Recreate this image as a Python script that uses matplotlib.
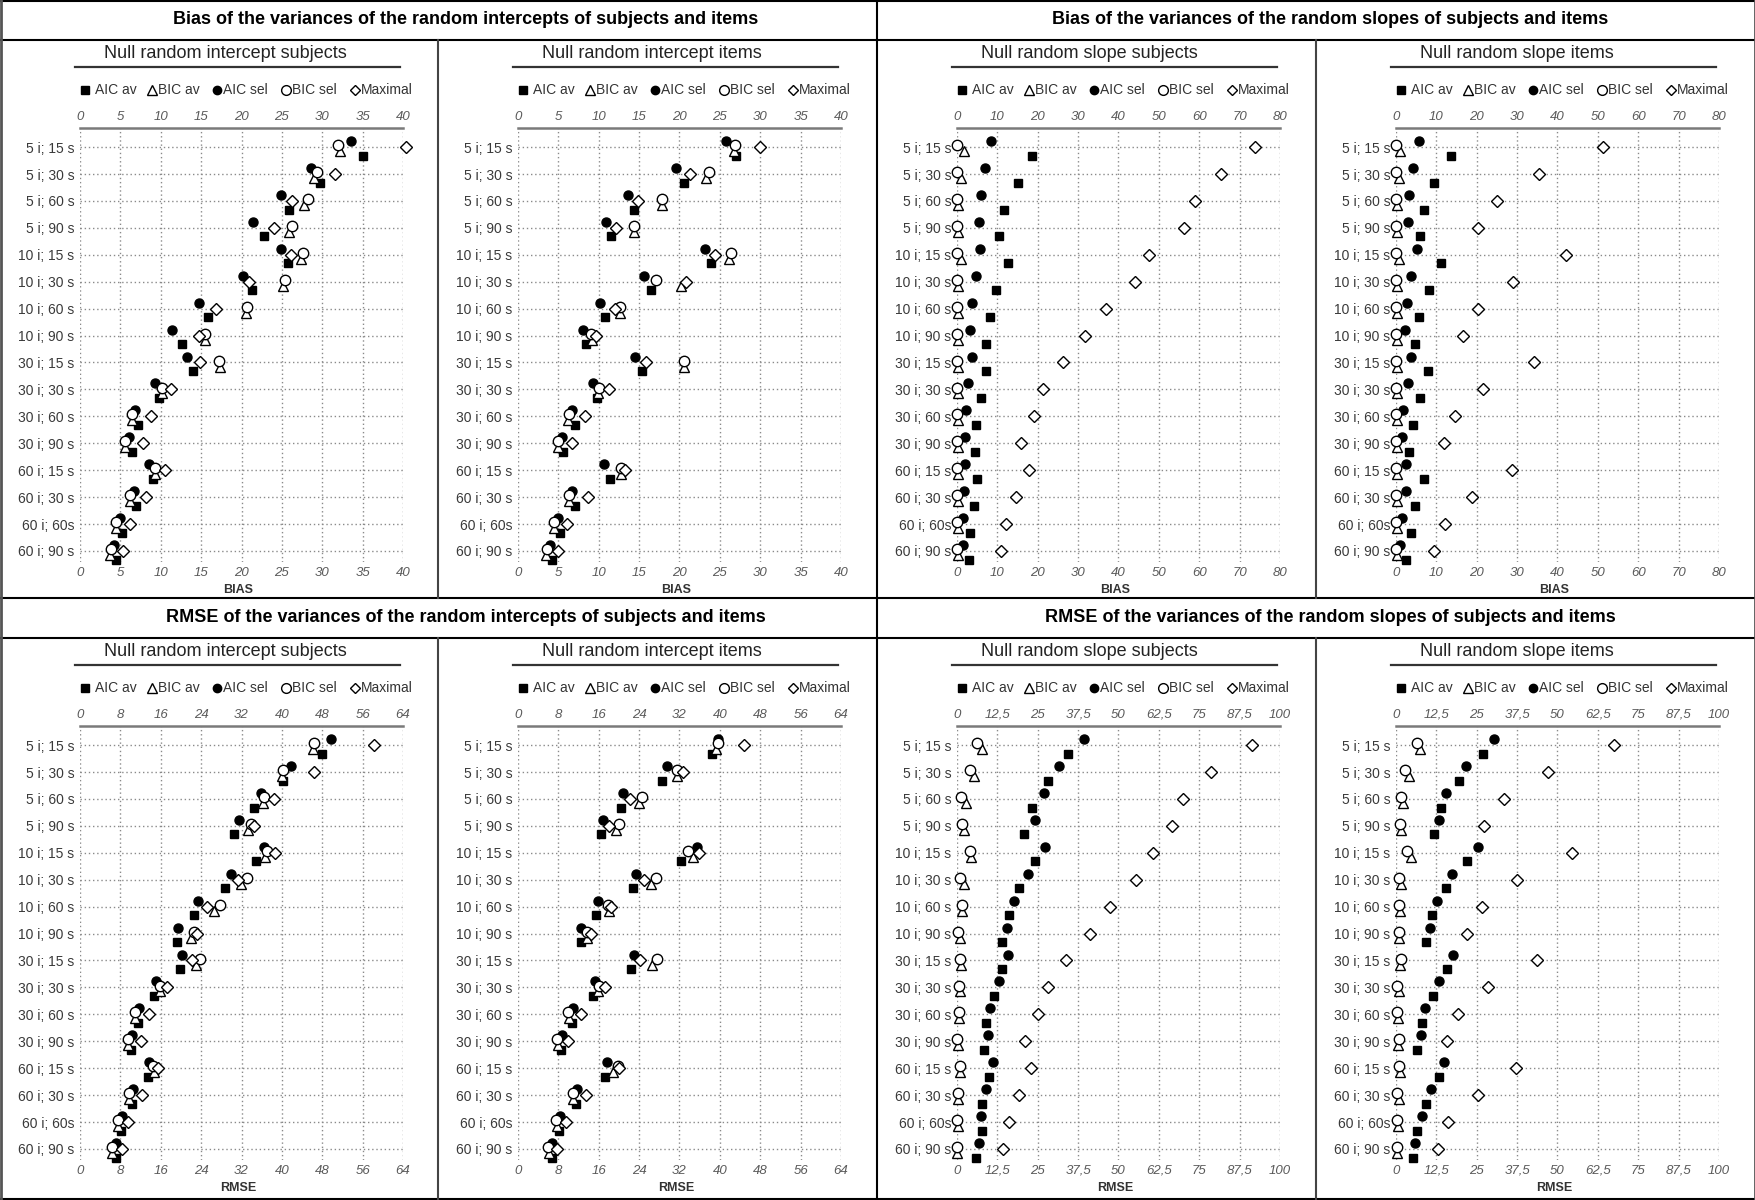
import matplotlib
matplotlib.use("Agg")
import matplotlib.pyplot as plt
from matplotlib.lines import Line2D

plt.rcParams['font.family'] = ['Liberation Sans', 'DejaVu Sans']

W, H = 1756, 1200

rows = ['5 i; 15 s', '5 i; 30 s', '5 i; 60 s', '5 i; 90 s',
        '10 i; 15 s', '10 i; 30 s', '10 i; 60 s', '10 i; 90 s',
        '30 i; 15 s', '30 i; 30 s', '30 i; 60 s', '30 i; 90 s',
        '60 i; 15 s', '60 i; 30 s', '60 i; 60s', '60 i; 90 s']

series_names = ['AIC av', 'BIC av', 'AIC sel', 'BIC sel', 'Maximal']

# ---- BIAS, null random intercept subjects
bis_aic_av = [35.1, 29.7, 25.9, 22.8, 25.7, 21.3, 15.8, 12.6, 14.0, 9.8, 7.2, 6.4, 9.1, 6.9, 5.2, 4.4]
bis_bic_av = [32.2, 29.0, 27.8, 25.9, 27.4, 25.1, 20.6, 15.5, 17.3, 10.2, 6.4, 5.6, 9.3, 6.2, 4.5, 3.7]
bis_aic_sel = [33.6, 28.6, 24.9, 21.4, 24.9, 20.2, 14.7, 11.4, 13.2, 9.3, 6.8, 6.1, 8.6, 6.7, 5.0, 4.2]
bis_bic_sel = [32.0, 29.3, 28.2, 26.3, 27.6, 25.4, 20.7, 15.5, 17.2, 10.1, 6.4, 5.6, 9.3, 6.2, 4.5, 3.8]
bis_max = [40.4, 31.6, 26.3, 24.0, 26.1, 20.9, 16.8, 14.7, 14.9, 11.3, 8.8, 7.8, 10.5, 8.2, 6.2, 5.3]

# ---- BIAS, null random intercept items
bii_aic_av = [27.0, 20.6, 14.4, 11.5, 23.9, 16.5, 10.8, 8.4, 15.4, 9.8, 7.0, 5.6, 11.4, 7.0, 5.2, 4.2]
bii_bic_av = [26.7, 23.3, 17.8, 14.4, 26.1, 20.2, 12.6, 9.2, 20.5, 9.9, 6.2, 4.9, 12.7, 6.3, 4.5, 3.5]
bii_aic_sel = [25.7, 19.6, 13.6, 10.9, 23.1, 15.6, 10.2, 8.1, 14.5, 9.3, 6.7, 5.4, 10.6, 6.7, 4.9, 4.0]
bii_bic_sel = [26.9, 23.6, 17.8, 14.4, 26.4, 17.1, 12.6, 9.0, 20.6, 10.0, 6.3, 4.9, 12.7, 6.3, 4.5, 3.6]
bii_max = [30.0, 21.3, 14.9, 12.1, 24.4, 20.8, 12.0, 9.6, 15.9, 11.3, 8.3, 6.7, 13.2, 8.7, 6.1, 5.0]

# ---- BIAS, null random slope subjects
bss_aic_av = [18.6, 15.1, 11.7, 10.3, 12.6, 9.6, 8.1, 7.1, 7.1, 5.9, 4.6, 4.4, 5.0, 4.1, 3.3, 3.0]
bss_bic_av = [1.7, 0.9, 0.3, 0.3, 0.9, 0.3, 0.3, 0.3, 0.3, 0.3, 0.3, 0.3, 0.3, 0.3, 0.3, 0.3]
bss_aic_sel = [8.5, 7.0, 6.0, 5.5, 5.8, 4.8, 3.8, 3.3, 3.6, 2.7, 2.3, 2.1, 2.1, 1.7, 1.5, 1.5]
bss_bic_sel = [0.0, 0.0, 0.0, 0.0, 0.0, 0.0, 0.0, 0.0, 0.0, 0.0, 0.0, 0.0, 0.0, 0.0, 0.0, 0.0]
bss_max = [73.8, 65.4, 58.9, 56.2, 47.6, 44.2, 37.0, 31.8, 26.3, 21.3, 19.0, 15.9, 17.8, 14.5, 12.2, 11.0]

# ---- BIAS, null random slope items
bsi_aic_av = [13.5, 9.5, 6.9, 5.9, 11.2, 8.1, 5.8, 4.6, 7.9, 5.9, 4.1, 3.3, 6.9, 4.8, 3.6, 2.5]
bsi_bic_av = [1.0, 0.7, 0.2, 0.2, 0.7, 0.2, 0.2, 0.2, 0.2, 0.2, 0.2, 0.2, 0.2, 0.2, 0.2, 0.2]
bsi_aic_sel = [5.6, 4.1, 3.1, 2.9, 5.2, 3.6, 2.7, 2.3, 3.8, 2.9, 1.7, 1.5, 2.6, 2.5, 1.6, 1.1]
bsi_bic_sel = [0.0, 0.0, 0.0, 0.0, 0.0, 0.0, 0.0, 0.0, 0.0, 0.0, 0.0, 0.0, 0.0, 0.0, 0.0, 0.0]
bsi_max = [51.3, 35.5, 25.0, 20.3, 42.1, 29.0, 20.2, 16.6, 34.1, 21.5, 14.5, 11.8, 28.8, 18.8, 12.1, 9.5]

# ---- RMSE, null random intercept subjects
ris_aic_av = [48.0, 40.2, 34.5, 30.6, 34.9, 28.8, 22.6, 19.2, 19.8, 14.7, 11.4, 10.1, 13.4, 10.4, 8.1, 7.1]
ris_bic_av = [46.2, 40.0, 36.2, 33.2, 36.7, 31.9, 26.6, 22.0, 23.0, 15.9, 10.9, 9.5, 14.6, 9.8, 7.5, 6.4]
ris_aic_sel = [49.8, 41.8, 35.8, 31.5, 36.4, 29.9, 23.3, 19.4, 20.2, 15.0, 11.6, 10.3, 13.6, 10.6, 8.3, 7.1]
ris_bic_sel = [46.4, 40.3, 36.5, 33.9, 37.0, 33.1, 27.8, 22.5, 23.8, 15.9, 10.8, 9.5, 14.4, 9.8, 7.5, 6.4]
ris_max = [58.2, 46.3, 38.5, 34.4, 38.7, 31.4, 25.1, 23.1, 22.2, 17.2, 13.6, 12.1, 15.5, 12.2, 9.5, 8.3]

# ---- RMSE, null random intercept items
rii_aic_av = [38.4, 28.5, 20.4, 16.5, 32.3, 22.7, 15.5, 12.5, 22.4, 14.8, 10.7, 8.6, 17.3, 11.5, 8.2, 6.7]
rii_bic_av = [39.2, 31.6, 23.9, 19.5, 34.6, 26.4, 18.0, 13.7, 26.5, 15.8, 10.2, 7.9, 18.9, 10.8, 7.7, 6.1]
rii_aic_sel = [39.7, 29.5, 20.8, 16.8, 35.4, 23.4, 15.8, 12.5, 22.9, 15.2, 10.8, 8.7, 17.6, 11.7, 8.4, 6.7]
rii_bic_sel = [39.6, 31.5, 24.5, 20.1, 33.6, 27.3, 17.9, 13.7, 27.6, 16.0, 10.0, 7.8, 19.8, 10.8, 7.6, 5.9]
rii_max = [44.8, 32.6, 22.2, 18.0, 35.8, 25.0, 18.5, 14.4, 24.2, 17.2, 12.5, 10.0, 20.1, 13.5, 9.5, 7.7]

# ---- RMSE, null random slope subjects
rss_aic_av = [34.5, 28.1, 23.3, 20.6, 24.0, 19.2, 16.0, 13.9, 13.9, 11.4, 8.9, 8.3, 9.9, 7.8, 7.8, 6.0]
rss_bic_av = [7.8, 5.3, 2.9, 2.2, 4.4, 2.2, 1.6, 1.0, 1.1, 0.8, 0.6, 0.3, 0.8, 0.3, 0.3, 0.0]
rss_aic_sel = [39.4, 31.7, 26.8, 24.0, 27.3, 22.1, 17.8, 15.6, 15.8, 13.0, 10.3, 9.6, 11.1, 8.9, 7.3, 6.8]
rss_bic_sel = [6.3, 3.9, 1.3, 1.6, 4.1, 0.8, 1.6, 0.3, 0.8, 0.5, 0.6, 0.0, 0.8, 0.3, 0.0, 0.0]
rss_max = [91.2, 78.6, 70.0, 66.5, 60.6, 55.4, 47.4, 41.3, 33.8, 28.1, 25.2, 21.2, 23.0, 19.2, 16.1, 14.2]

# ---- RMSE, null random slope items
rsi_aic_av = [27.0, 19.4, 13.9, 11.9, 22.0, 15.5, 11.3, 9.3, 15.8, 11.5, 7.9, 6.4, 13.2, 9.3, 6.5, 5.4]
rsi_bic_av = [7.5, 3.9, 2.1, 1.5, 4.6, 1.5, 1.2, 1.0, 1.2, 0.8, 0.5, 0.5, 1.3, 0.8, 0.5, 0.2]
rsi_aic_sel = [30.2, 21.6, 15.5, 13.4, 25.3, 17.3, 12.7, 10.6, 17.8, 13.4, 9.0, 7.7, 14.9, 10.8, 7.9, 6.0]
rsi_bic_sel = [6.5, 2.8, 1.5, 1.2, 3.4, 0.8, 0.8, 0.8, 1.5, 0.2, 0.2, 0.8, 1.0, 0.2, 0.2, 0.2]
rsi_max = [67.5, 47.1, 33.3, 27.3, 54.6, 37.6, 26.5, 22.0, 43.5, 28.4, 19.3, 15.8, 37.3, 25.5, 16.2, 12.9]

bias_int_ticks = [0, 5, 10, 15, 20, 25, 30, 35, 40]
bias_slope_ticks = [0, 10, 20, 30, 40, 50, 60, 70, 80]
rmse_int_ticks = [0, 8, 16, 24, 32, 40, 48, 56, 64]
rmse_slope_ticks = [0, 12.5, 25, 37.5, 50, 62.5, 75, 87.5, 100]

band_titles = ['Bias of the variances of the random intercepts of subjects and items',
               'Bias of the variances of the random slopes of subjects and items',
               'RMSE of the variances of the random intercepts of subjects and items',
               'RMSE of the variances of the random slopes of subjects and items']

panels = [
    ('Null random intercept subjects', 'BIAS', bias_int_ticks,
     [bis_aic_av, bis_bic_av, bis_aic_sel, bis_bic_sel, bis_max]),
    ('Null random intercept items', 'BIAS', bias_int_ticks,
     [bii_aic_av, bii_bic_av, bii_aic_sel, bii_bic_sel, bii_max]),
    ('Null random slope subjects', 'BIAS', bias_slope_ticks,
     [bss_aic_av, bss_bic_av, bss_aic_sel, bss_bic_sel, bss_max]),
    ('Null random slope items', 'BIAS', bias_slope_ticks,
     [bsi_aic_av, bsi_bic_av, bsi_aic_sel, bsi_bic_sel, bsi_max]),
    ('Null random intercept subjects', 'RMSE', rmse_int_ticks,
     [ris_aic_av, ris_bic_av, ris_aic_sel, ris_bic_sel, ris_max]),
    ('Null random intercept items', 'RMSE', rmse_int_ticks,
     [rii_aic_av, rii_bic_av, rii_aic_sel, rii_bic_sel, rii_max]),
    ('Null random slope subjects', 'RMSE', rmse_slope_ticks,
     [rss_aic_av, rss_bic_av, rss_aic_sel, rss_bic_sel, rss_max]),
    ('Null random slope items', 'RMSE', rmse_slope_ticks,
     [rsi_aic_av, rsi_bic_av, rsi_aic_sel, rsi_bic_sel, rsi_max]),
]

# marker style per series: marker, face, size, vertical offset (row units)
styles = [('s', 'black', 6.0, 0.32),
          ('^', 'white', 7.0, 0.15),
          ('o', 'black', 6.5, -0.22),
          ('o', 'white', 7.5, -0.07),
          ('D', 'white', 6.0, 0.0)]


def fx(x):
    return x / W


def fy(y):
    return 1 - y / H


def tick_text(v):
    if float(v).is_integer():
        return str(int(v))
    return str(v).replace('.', ',')


fig = plt.figure(figsize=(W / 100, H / 100), dpi=100)
fig.patch.set_facecolor('white')

panel_left = [0, 438, 877, 1316]
grid_kw = dict(color='#8a8a8a', linestyle=(0, (1, 2)), linewidth=1.0)

for i, (name, xlab, ticks, vals) in enumerate(panels):
    c = i % 4
    off = 0 if i < 4 else 598
    L = panel_left[c]
    ax = fig.add_axes([fx(L + 80), fy(off + 561.7), 323 / W, 434 / H])

    ypos = list(range(len(rows)))
    for (mk, face, ms, dy), v in zip(styles, vals):
        ax.plot(v, [y + dy for y in ypos], linestyle='none', marker=mk,
                markersize=ms, markerfacecolor=face, markeredgecolor='black',
                markeredgewidth=1.0, clip_on=False, zorder=3)

    ax.set_xlim(ticks[0], ticks[-1])
    ax.set_ylim(15.4, -0.72)
    ax.set_xticks(ticks)
    ax.set_xticklabels([tick_text(t) for t in ticks], fontsize=9.5,
                       style='italic', color='#5a5a5a')
    ax.set_yticks(ypos)
    ax.set_yticklabels(rows, fontsize=10, color='#3a3a3a')
    ax.tick_params(axis='x', length=0, pad=3.5, labeltop=True, labelbottom=True)
    ax.tick_params(axis='y', length=0, pad=4)
    ax.grid(True, **grid_kw)
    ax.set_axisbelow(True)
    for s in ['left', 'right', 'bottom']:
        ax.spines[s].set_visible(False)
    ax.spines['top'].set_color('#7a7a7a')
    ax.spines['top'].set_linewidth(1.8)

    # axis label under the bottom tick labels
    fig.text(fx(L + 238), fy(off + 590), xlab, ha='center', va='center',
             fontsize=9, fontweight='bold', color='#333333')

    # subtitle with underline
    fig.text(fx(L + 104), fy(off + 54), name, ha='left', va='center',
             fontsize=13, color='#222222')
    fig.add_artist(Line2D([fx(L + 75), fx(L + 400)], [fy(off + 67)] * 2,
                          color='#333333', linewidth=1.6))

    # legend row
    mx = [85, 152, 217, 286, 355]
    for (mk, face, ms, dy), lab, x0 in zip(styles, series_names, mx):
        fig.add_artist(Line2D([fx(L + x0)], [fy(off + 90)], linestyle='none',
                              marker=mk, markersize=ms - 0.5,
                              markerfacecolor=face, markeredgecolor='black',
                              markeredgewidth=1.0))
        gap = 10 if lab == 'AIC av' else 6
        fig.text(fx(L + x0 + gap), fy(off + 90), lab, ha='left',
                 va='center', fontsize=10, color='#333333')

# title bands
for j, t in enumerate(band_titles):
    yy = 20 if j < 2 else 618
    xx = 466 if j % 2 == 0 else 1330
    fig.text(fx(xx), fy(yy), t, ha='center', va='center', fontsize=13,
             fontweight='bold', color='black')

# frame lines
def hline(y, x0=0, x1=W, col='black', lw=1.5):
    fig.add_artist(Line2D([fx(x0), fx(x1)], [fy(y), fy(y)], color=col,
                          linewidth=lw))


def vline(x, y0, y1, col='black', lw=1.5):
    fig.add_artist(Line2D([fx(x), fx(x)], [fy(y0), fy(y1)], color=col,
                          linewidth=lw))


hline(1)
hline(40)
hline(598)
hline(638)
hline(1199)
vline(1, 0, 1200, col='#555555', lw=2)
vline(1755, 0, 1200, col='#555555', lw=2)
vline(877, 0, 1200)
vline(438, 40, 598, col='#444444')
vline(1316, 40, 598, col='#444444')
vline(438, 638, 1200, col='#444444')
vline(1316, 638, 1200, col='#444444')

fig.savefig('out.png', dpi=100, facecolor='white')
